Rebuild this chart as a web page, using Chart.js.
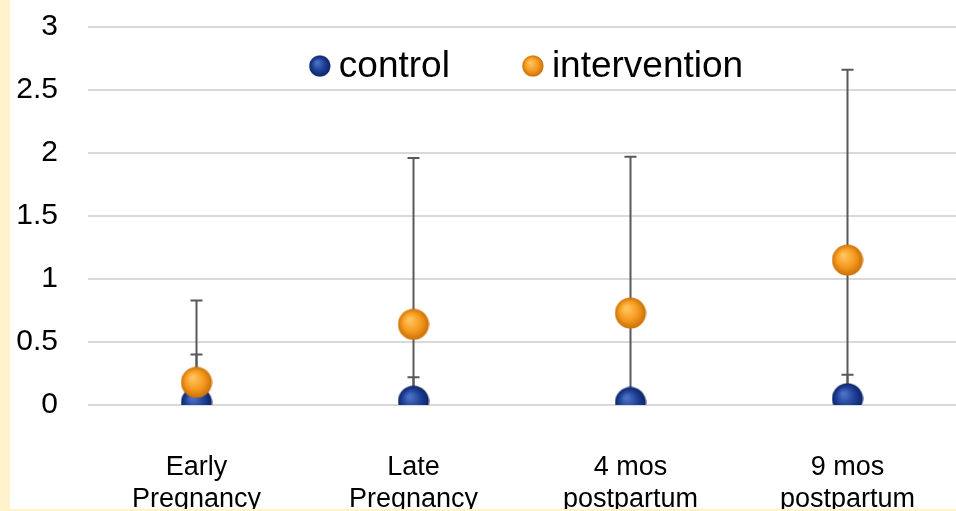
<!DOCTYPE html>
<html>
<head>
<meta charset="utf-8">
<script src="https://cdn.jsdelivr.net/npm/chart.js@4.4.1/dist/chart.umd.min.js"></script>
<style>
  html, body { margin: 0; padding: 0; background: #fff; }
  #wrap {
    width: 946px; height: 509px;
    border-left: 10px solid #fff2cc;
    border-bottom: 2px solid #fff2cc;
    background: #fff;
  }
  canvas { display: block; }
</style>
</head>
<body>
<div id="wrap"><canvas id="chart" width="946" height="509"></canvas></div>
<script>
// values
const categories = [["Early", "Pregnancy"], ["Late", "Pregnancy"], ["4 mos", "postpartum"], ["9 mos", "postpartum"]];
const controlValues = [0.02, 0.03, 0.02, 0.05];
const controlErrors = [0.38, 0.19, 0.10, 0.19];
const interventionValues = [0.18, 0.64, 0.73, 1.15];
const interventionErrors = [0.65, 1.32, 1.24, 1.51];
const yMin = 0, yMax = 3, yStep = 0.5;

const FONT = "'Liberation Sans', Arial, sans-serif";

// shaded ball used as point style
function makeBall(r, light, mid, dark) {
    const c = document.createElement("canvas");
    c.width = c.height = r * 2;
    const g = c.getContext("2d");
    const grad = g.createRadialGradient(r * 0.75, r * 0.7, r * 0.1, r, r, r);
    grad.addColorStop(0, light);
    grad.addColorStop(0.55, mid);
    grad.addColorStop(1, dark);
    g.fillStyle = grad;
    g.beginPath();
    g.arc(r, r, r - 0.5, 0, Math.PI * 2);
    g.fill();
    return c;
}
const blueBall = makeBall(16, "#4a6fc4", "#1d3f95", "#0c2160");
const orangeBall = makeBall(16, "#ffc35c", "#f59a1e", "#c86d06");

// vertical error bars, clipped to the plot area like the original
const errorBars = {
    id: "errorBars",
    beforeDatasetsDraw(chart) {
        const { ctx, chartArea, scales: { y } } = chart;
        ctx.save();
        ctx.beginPath();
        ctx.rect(chartArea.left, chartArea.top, chartArea.right - chartArea.left, chartArea.bottom - chartArea.top);
        ctx.clip();
        ctx.strokeStyle = "#595959";
        ctx.lineWidth = 2;
        chart.data.datasets.forEach((ds, i) => {
            const meta = chart.getDatasetMeta(i);
            meta.data.forEach((pt, j) => {
                const v = ds.data[j], e = ds.errors[j];
                const yTop = y.getPixelForValue(v + e);
                const yBot = y.getPixelForValue(v - e);
                ctx.beginPath();
                ctx.moveTo(pt.x, yTop);
                ctx.lineTo(pt.x, yBot);
                ctx.moveTo(pt.x - 6, yTop);
                ctx.lineTo(pt.x + 6, yTop);
                ctx.moveTo(pt.x - 6, yBot);
                ctx.lineTo(pt.x + 6, yBot);
                ctx.stroke();
            });
        });
        ctx.restore();
    }
};

// legend drawn inside the plot area, near the top
const innerLegend = {
    id: "innerLegend",
    afterDraw(chart) {
        const { ctx, chartArea } = chart;
        const items = chart.data.datasets.slice().sort((a, b) => a.legendOrder - b.legendOrder);
        ctx.save();
        ctx.font = "37px " + FONT;
        ctx.textBaseline = "middle";
        ctx.fillStyle = "#000";
        const r = 11, gap = 8, itemGap = 72;
        const widths = items.map(d => 2 * r + gap + ctx.measureText(d.label).width);
        const total = widths.reduce((a, b) => a + b, 0) + itemGap * (items.length - 1);
        let x = (chartArea.left + chartArea.right) / 2 + 4 - total / 2;
        const yc = 66;
        items.forEach((d, i) => {
            ctx.drawImage(d.pointStyle, x, yc - r, 2 * r, 2 * r);
            ctx.fillText(d.label, x + 2 * r + gap, yc + 1);
            x += widths[i] + itemGap;
        });
        ctx.restore();
    }
};

new Chart(document.getElementById("chart"), {
    type: "line",
    data: {
        labels: categories,
        datasets: [
            {
                label: "intervention",
                data: interventionValues,
                errors: interventionErrors,
                legendOrder: 1,
                showLine: false,
                pointStyle: orangeBall,
                pointRadius: 16,
                pointHoverRadius: 16
            },
            {
                label: "control",
                data: controlValues,
                errors: controlErrors,
                legendOrder: 0,
                showLine: false,
                pointStyle: blueBall,
                pointRadius: 16,
                pointHoverRadius: 16
            }
        ]
    },
    options: {
        responsive: false,
        animation: false,
        layout: { autoPadding: false, padding: { top: 27, right: 0, bottom: 0, left: 0 } },
        plugins: {
            legend: { display: false },
            tooltip: { enabled: false }
        },
        scales: {
            x: {
                offset: true,
                grid: { display: false, drawTicks: false },
                border: { display: false },
                ticks: {
                    color: "#000",
                    padding: 46,
                    maxRotation: 0,
                    autoSkip: false,
                    font: { family: FONT, size: 27 }
                },
                afterFit(scale) {
                    scale.height = 104;
                    scale.paddingLeft = 0;
                    scale.paddingRight = 0;
                }
            },
            y: {
                min: yMin,
                max: yMax,
                grid: { color: "#d9d9d9", lineWidth: 2, drawTicks: false },
                border: { display: false },
                ticks: {
                    stepSize: yStep,
                    color: "#000",
                    padding: 30,
                    font: { family: FONT, size: 30 },
                    callback: v => String(Number(v.toFixed(1)))
                },
                afterFit(scale) {
                    scale.width = 78;
                    scale.paddingTop = 0;
                    scale.paddingBottom = 0;
                }
            }
        }
    },
    plugins: [errorBars, innerLegend]
});
</script>
</body>
</html>
